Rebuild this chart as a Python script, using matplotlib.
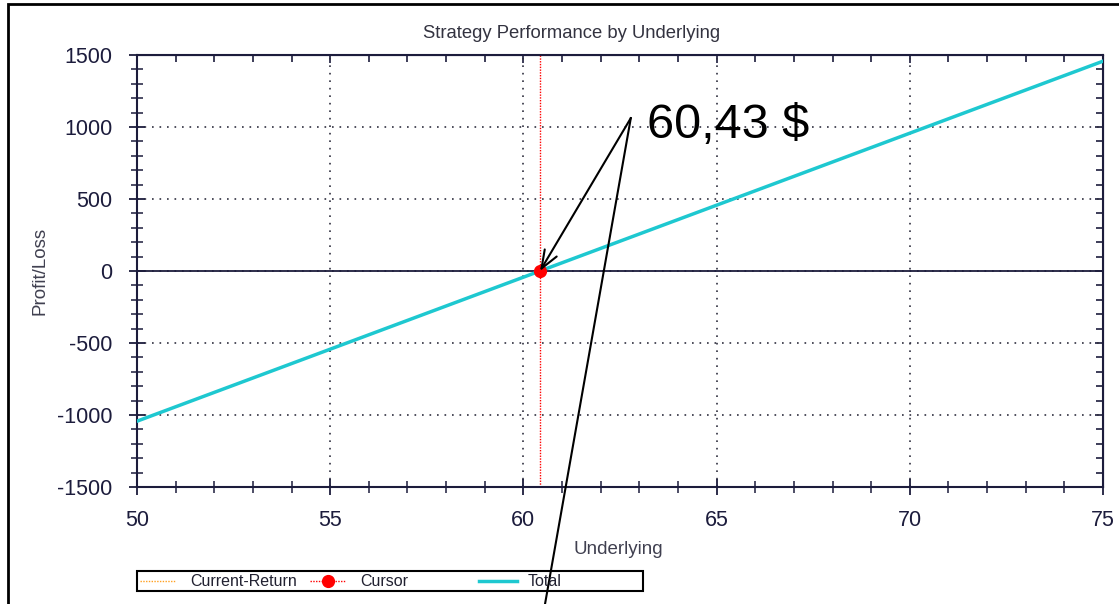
import numpy as np
import matplotlib.pyplot as plt
from matplotlib.lines import Line2D
from matplotlib.patches import Rectangle

plt.rcParams['font.family'] = ['Liberation Sans', 'DejaVu Sans']
plt.rcParams['axes.unicode_minus'] = False

# Data
underlying = [50, 75]
total_pl = [-1043, 1457]
cursor_x = 60.43
cursor_y = 0
cursor_label = "60,43 $"
x_ticks = [50, 55, 60, 65, 70, 75]
y_ticks = [-1500, -1000, -500, 0, 500, 1000, 1500]
legend_labels = ['Current-Return', 'Cursor', 'Total']

W, H = 1119, 604
navy = '#1c1c3c'
cyan = '#1ec8d0'


def fx(px):
    return px / W


def fy(py):
    # pixel row from top -> figure fraction
    return 1 - py / H


fig = plt.figure(figsize=(W / 100, H / 100), dpi=100)
ax = fig.add_axes([fx(137), fy(487), fx(966), 432 / H])

# Total line
ax.plot(underlying, total_pl, color=cyan, lw=2.5, zorder=3)
# zero line
ax.axhline(0, color=navy, lw=1.3, zorder=2)
# cursor
ax.axvline(cursor_x, color='red', lw=1, ls=(0, (1, 1)), zorder=2)
ax.plot([cursor_x], [cursor_y], 'o', color='red', ms=8.5, zorder=4)

ax.set_xlim(50, 75)
ax.set_ylim(-1500, 1500)
ax.set_xticks(x_ticks)
ax.set_yticks(y_ticks)
ax.set_xticks(np.arange(50, 76, 1), minor=True)
ax.set_yticks(np.arange(-1500, 1501, 100), minor=True)
ax.grid(True, which='major', color='#303040', ls=(0, (1, 3.5)), lw=1.2)
ax.tick_params(which='major', direction='inout', length=11, width=1.3, color=navy,
               labelsize=15.5, labelcolor=navy)
ax.tick_params(axis='x', which='major', pad=11)
ax.tick_params(axis='y', which='major', pad=12)
ax.tick_params(which='minor', direction='inout', length=8, width=1.1, color=navy)
for s in ax.spines.values():
    s.set_color(navy)
    s.set_linewidth(1.5)

# inward ticks on top and right
secx = ax.secondary_xaxis('top')
secx.set_xticks(x_ticks)
secx.set_xticks(np.arange(50, 76, 1), minor=True)
secx.tick_params(which='both', direction='in', length=5, width=1.2, color=navy, labeltop=False)
secx.tick_params(which='major', length=6)
secx.spines['top'].set_color(navy)
secy = ax.secondary_yaxis('right')
secy.set_yticks(y_ticks)
secy.set_yticks(np.arange(-1500, 1501, 100), minor=True)
secy.tick_params(which='both', direction='in', length=5, width=1.2, color=navy, labelright=False)
secy.tick_params(which='major', length=6)
secy.spines['right'].set_color(navy)

fig.text(fx(572), fy(33), 'Strategy Performance by Underlying', fontsize=13.3,
         color='#333340', ha='center', va='center')
ax.set_xlabel('Underlying', fontsize=13.5, color='#404050', va='center')
ax.xaxis.set_label_coords((618 - 137) / 966, -(550 - 487) / 432)
ax.set_ylabel('Profit/Loss', fontsize=13.5, color='#404050', va='center')
ax.yaxis.set_label_coords(-(137 - 40) / 966, 0.5)

# annotation with arrow
tail = (62.78, 1062)
ax.annotate('', xy=(cursor_x, cursor_y), xytext=tail,
            arrowprops=dict(arrowstyle='->,head_length=1.3,head_width=0.5', color='black', lw=1.5,
                            shrinkA=0, shrinkB=0), zorder=5)
ax.add_line(Line2D([tail[0], 60.56], [tail[1], -2312], color='black', lw=1.5, clip_on=False, zorder=5))
ax.text(63.2, 1010, cursor_label, fontsize=35, va='center', ha='left', color='black')

# legend box drawn by hand (uneven column spacing in the original)
fig.patches.append(Rectangle((fx(137), fy(591)), fx(506), 20 / H, transform=fig.transFigure,
                             fill=False, edgecolor='black', lw=1.5))
leg_handles = [
    dict(color='#ffa020', lw=1, ls=(0, (1, 1)), marker=None, x0=140, x1=176, tx=190),
    dict(color='red', lw=1, ls=(0, (1, 1)), marker='o', x0=310, x1=346, tx=360),
    dict(color=cyan, lw=2.5, ls='-', marker=None, x0=479, x1=517, tx=528),
]
for lab, h in zip(legend_labels, leg_handles):
    fig.add_artist(Line2D([fx(h['x0']), fx(h['x1'])], [fy(581), fy(581)], transform=fig.transFigure,
                          color=h['color'], lw=h['lw'], ls=h['ls']))
    if h['marker']:
        fig.add_artist(Line2D([fx((h['x0'] + h['x1']) / 2)], [fy(581)], transform=fig.transFigure,
                              color=h['color'], marker=h['marker'], ms=8.5, ls='none'))
    fig.text(fx(h['tx']), fy(581), lab, fontsize=11.5, color='#202030', ha='left', va='center')

# outer frame
fig.patches.append(Rectangle((fx(8), -0.1), 1.2, 0.1 + 600 / H, transform=fig.transFigure,
                             fill=False, edgecolor='black', lw=2, zorder=10))

fig.savefig('out.png', dpi=100)
